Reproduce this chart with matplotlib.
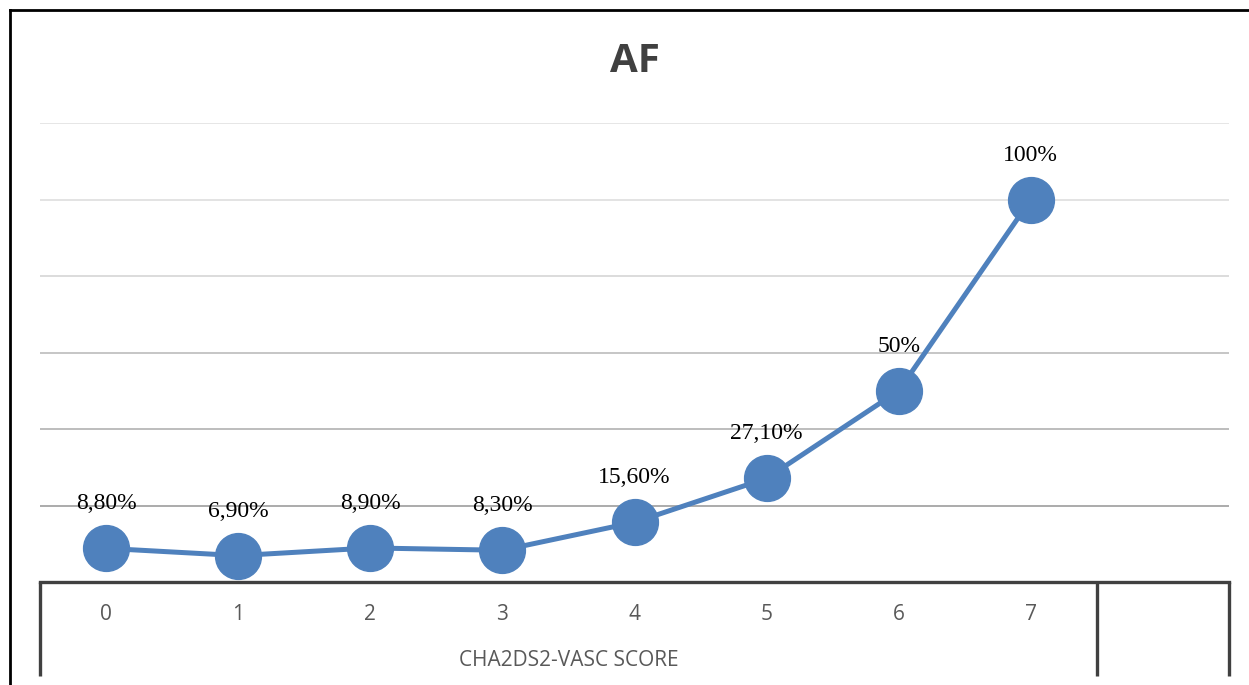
import matplotlib
matplotlib.use("Agg")
import matplotlib.pyplot as plt
import matplotlib.lines as mlines

# CHA2DS2-VASc score vs. AF rate
scores = ["0", "1", "2", "3", "4", "5", "6", "7", ""]
af_rate = [8.8, 6.9, 8.9, 8.3, 15.6, 27.1, 50, 100]
value_labels = ["8,80%", "6,90%", "8,90%", "8,30%", "15,60%", "27,10%", "50%", "100%"]
group_label = "CHA2DS2-VASC SCORE"
grid_levels = [20, 40, 60, 80, 100, 120]
grid_colors = ["#ababab", "#bdbdbd", "#c6c6c6", "#dcdcdc", "#e3e3e3", "#e6e6e6"]

W, H, DPI = 1249, 685, 100
fig = plt.figure(figsize=(W / DPI, H / DPI), dpi=DPI)
ax = fig.add_axes([40 / W, (H - 582) / H, (1229 - 40) / W, (582 - 123) / H])

blue = "#4f81bd"
dark = "#404040"
tick_grey = "#595959"

for lvl, col in zip(grid_levels, grid_colors):
    ax.axhline(lvl, color=col, lw=1.4, zorder=0)

x = list(range(len(af_rate)))
ax.plot(x, af_rate, color=blue, lw=3.6, marker="o", markersize=33,
        markerfacecolor=blue, markeredgecolor=blue, zorder=3, clip_on=False)

for xi, yi, lab in zip(x, af_rate, value_labels):
    ax.annotate(lab, (xi, yi), xytext=(0, 32), textcoords="offset points",
                ha="center", va="center", fontsize=17,
                family="Liberation Serif", color="black", zorder=4)

ax.set_xlim(-0.5, len(scores) - 0.5)
ax.set_ylim(0, 120)
ax.set_xticks([])
ax.set_yticks([])
for s in ["top", "right", "left"]:
    ax.spines[s].set_visible(False)
ax.spines["bottom"].set_color(dark)
ax.spines["bottom"].set_linewidth(2.4)

# category labels and the grouped axis underneath
tr = ax.get_xaxis_transform()
for i, s in enumerate(scores):
    ax.text(i, -0.07, s, transform=tr, ha="center", va="center",
            fontsize=15, family="Open Sans", color=tick_grey)
ax.text((0 + len(af_rate) - 1) / 2, -0.17, group_label, transform=tr,
        ha="center", va="center", fontsize=15, family="Open Sans", color=tick_grey)
for xd in [-0.5, len(af_rate) - 0.5, len(scores) - 0.5]:
    ax.add_line(mlines.Line2D([xd, xd], [0, -0.205], transform=tr, color=dark,
                              lw=2.4, clip_on=False, solid_capstyle="butt"))

fig.text(635 / W, 1 - 62 / H, "AF", ha="center", va="center", fontsize=29,
         fontweight="bold", family="Open Sans", color=dark)

# outer frame, top and left edges only
fig.add_artist(mlines.Line2D([10 / W, 1], [1 - 10 / H, 1 - 10 / H],
                             transform=fig.transFigure, color="black", lw=2))
fig.add_artist(mlines.Line2D([10 / W, 10 / W], [0, 1 - 10 / H],
                             transform=fig.transFigure, color="black", lw=2))

fig.savefig("out.png", dpi=DPI)
